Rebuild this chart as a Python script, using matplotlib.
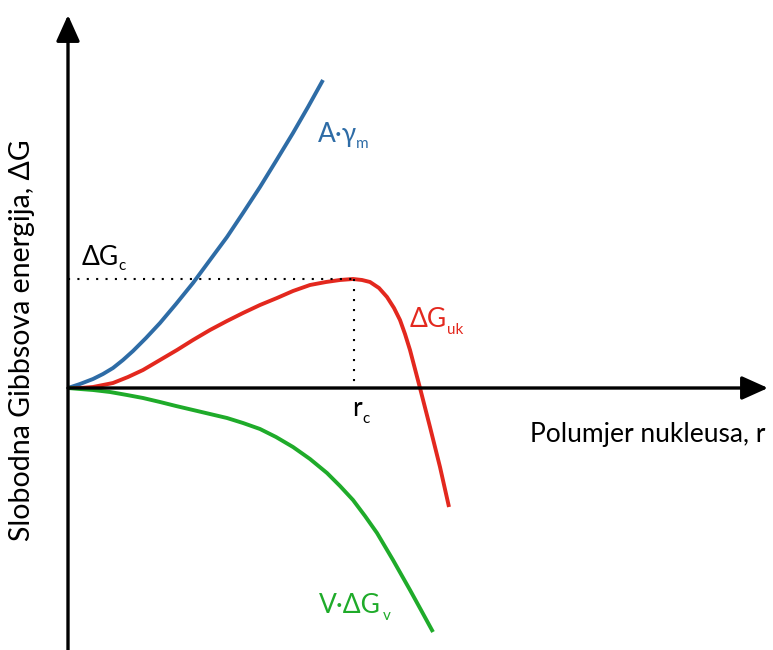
import matplotlib
matplotlib.use("Agg")
import matplotlib.pyplot as plt

plt.rcParams['font.family'] = ['Lato', 'DejaVu Sans']

# Data (x: nucleus radius, y: Gibbs free energy), arbitrary units
surface_r = [0, 12, 25, 35, 45, 55, 65, 78, 92, 108, 125, 142, 159, 175, 192, 208, 225, 240, 255]
surface_g = [0, 4, 9, 14, 20, 28, 37, 50, 65, 84, 105, 128, 151, 175, 201, 227, 255, 281, 308]

total_r = [0, 12, 25, 35, 45, 60, 75, 92, 109, 125, 142, 159, 175, 192, 209, 225, 242, 258, 272,
           285, 294, 302, 311, 319, 326, 332, 337, 342, 347, 352, 362, 372, 381]
total_g = [0, 0, 1, 3, 5, 11, 18, 28, 38, 48, 58, 67, 75, 83, 90, 97, 103, 106, 108,
           109, 108, 106, 100, 91, 80, 68, 54, 38, 19, 0, -39, -79, -119]

volume_r = [0, 12, 25, 42, 59, 75, 92, 108, 125, 142, 159, 175, 192, 208, 225, 242, 259, 272,
            285, 297, 309, 325, 342, 353, 365]
volume_g = [0, -1, -2, -4, -7, -10, -14, -18, -22, -26, -30, -35, -41, -49, -59, -71, -85, -98,
            -112, -128, -145, -172, -202, -222, -244]

rc = 286
dGc = 109

fig = plt.figure(figsize=(7.73, 6.5), dpi=100)
ax = fig.add_axes([0, 0, 1, 1])
ax.set_xlim(-68, 705)
ax.set_ylim(-262, 388)
ax.axis('off')

blue = '#2e6ca6'
red = '#e3281e'
green = '#1fab2a'

lw = 2.8
for xs, ys, c in [(surface_r, surface_g, blue), (total_r, total_g, red), (volume_r, volume_g, green)]:
    ax.plot(xs, ys, color=c, lw=lw, solid_capstyle='butt', solid_joinstyle='round')

# dotted guides
ax.plot([0, rc], [dGc, dGc], color='black', lw=1.5, linestyle=(0, (1, 3.5)))
ax.plot([rc, rc], [dGc, 0], color='black', lw=1.5, linestyle=(0, (1, 3.8)))

# axes with arrows
style = '-|>,head_length=1.0,head_width=0.45'
ax.annotate('', xy=(700, 0), xytext=(0, 0),
            arrowprops=dict(arrowstyle=style, lw=2.4, color='black',
                            shrinkA=0, shrinkB=0, mutation_scale=16))
ax.annotate('', xy=(0, 373), xytext=(0, -262),
            arrowprops=dict(arrowstyle=style, lw=2.4, color='black',
                            shrinkA=0, shrinkB=0, mutation_scale=16))

fs = 19
sub = 11

fig.canvas.draw()
renderer = fig.canvas.get_renderer()


def label(x, y, main, subtxt, color, dy, gap=0):
    t = ax.text(x, y, main, color=color, fontsize=fs, ha='left', va='baseline')
    bb = t.get_window_extent(renderer=renderer)
    xr = ax.transData.inverted().transform((bb.x1, bb.y0))[0]
    ax.text(xr + gap, y - dy, subtxt, color=color, fontsize=sub, ha='left', va='baseline')


label(250, 246, 'A·γ', 'm', blue, 6, gap=-1)
label(14, 123, 'ΔG', 'c', 'black', 5, gap=-1)
label(342, 61, 'ΔG', 'uk', red, 7, gap=0)
label(251, -225, 'V·ΔG', 'v', green, 7, gap=2)
label(284, -28, 'r', 'c', 'black', 7, gap=1)

ax.text(697, -54, 'Polumjer nukleusa, r', color='black', fontsize=fs, ha='right', va='baseline')
ax.text(-46, 48, 'Slobodna Gibbsova energija, ΔG', color='black', fontsize=20.5,
        rotation=90, ha='center', va='center')

fig.savefig('out.png', dpi=100)
